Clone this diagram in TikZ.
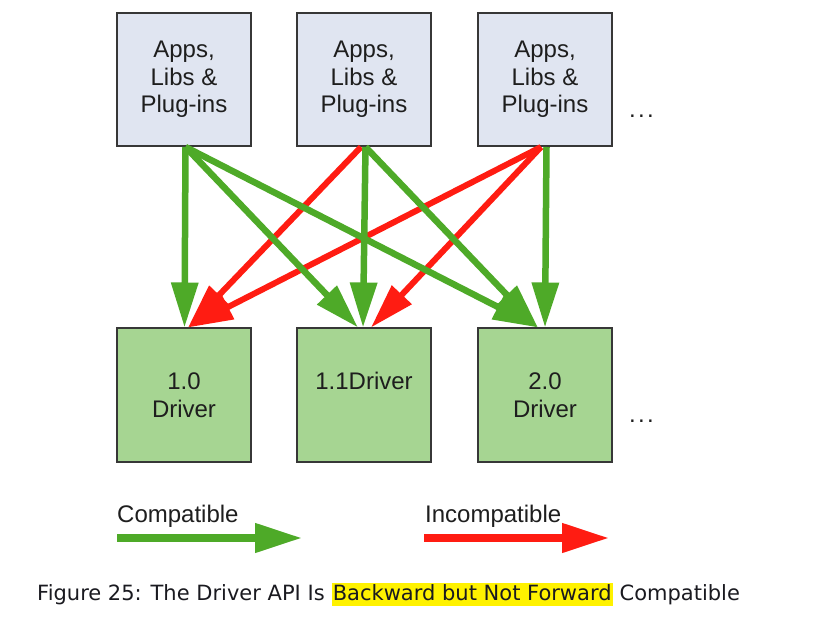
\documentclass[tikz,border=0pt]{standalone}
\usepackage{fontspec}
\setmainfont{Liberation Sans}
\newfontfamily\capfont{DejaVu Sans}
\usetikzlibrary{arrows.meta,calc}
\definecolor{cgreen}{RGB}{78,170,40}
\definecolor{cred}{RGB}{255,28,18}
\definecolor{topfill}{RGB}{224,229,241}
\definecolor{botfill}{RGB}{166,213,146}
\definecolor{boxline}{RGB}{55,55,55}
\definecolor{hl}{RGB}{255,242,0}
\definecolor{captext}{RGB}{26,26,32}
\definecolor{dtext}{RGB}{30,30,30}
\begin{document}
\begin{tikzpicture}[x=1pt,y=1pt,
  box/.style={draw=boxline,line width=2pt,minimum width=134pt,minimum height=133pt,inner sep=0pt,align=center,font=\fontsize{24}{27.5}\selectfont,text=dtext},
  appbox/.style={box,fill=topfill},
  drvbox/.style={box,fill=botfill},
  garrow/.style={draw=cgreen,line width=6.5pt,-{Triangle[length=45pt,width=26pt]}},
  rarrow/.style={draw=cred,line width=6pt,-{Triangle[length=45pt,width=26pt]}},
  glegend/.style={draw=cgreen,line width=7.5pt,-{Triangle[length=47pt,width=28pt]}},
  rlegend/.style={draw=cred,line width=7.5pt,-{Triangle[length=47pt,width=28pt]}},
  lbl/.style={anchor=base west,inner sep=0pt,font=\fontsize{24}{27.5}\selectfont,text=dtext},
  dots/.style={anchor=base west,inner sep=0pt,font=\fontsize{24}{27.5}\selectfont,text=dtext},
  captxt/.style={anchor=base west,inner sep=0pt,font=\capfont\fontsize{21}{25}\selectfont,text=captext}]
\useasboundingbox (0,0) rectangle (830,-617);
\fill[white] (0,0) rectangle (830,-617);

% boxes
\node[appbox] (a1) at (184,-79.5) {Apps,\\Libs \&\\Plug-ins};
\node[appbox] (a2) at (364,-79.5) {Apps,\\Libs \&\\Plug-ins};
\node[appbox] (a3) at (545,-79.5) {Apps,\\Libs \&\\Plug-ins};
\node[dots] (dt) at (629,-118) {.\kern2.3pt.\kern2.3pt.};

\node[drvbox] (d1) at (184,-395) {1.0\\Driver};
\node[drvbox] (d2) at (364,-395) {1.1Driver\\\phantom{Driver}};
\node[drvbox] (d3) at (545,-395) {2.0\\Driver};
\node[dots] (db) at (629,-423) {.\kern2.3pt.\kern2.3pt.};

% incompatible arrows (below)
\draw[rarrow] ($(a2.south)+(-3,0)$) -- ($(d1.north)+(4,0)$);
\draw[rarrow] ($(a3.south)+(-4,0)$) -- ($(d1.north)+(4,0)$);
\draw[rarrow] ($(a3.south)+(-4,0)$) -- ($(d2.north)+(7,0)$);

% compatible arrows (on top)
\draw[garrow] ($(a1.south)+(1.5,0)$) -- ($(d1.north)+(0.5,0)$);
\draw[garrow] ($(a1.south)+(1.5,0)$) -- ($(d2.north)+(-6,0)$);
\draw[garrow] ($(a1.south)+(1.5,0)$) -- ($(d3.north)+(-7,0)$);
\draw[garrow] ($(a2.south)+(1.5,0)$) -- ($(d2.north)+(-1,0)$);
\draw[garrow] ($(a2.south)+(1.5,0)$) -- ($(d3.north)+(-7,0)$);
\draw[garrow] ($(a3.south)+(1.5,0)$) -- ($(d3.north)+(0,0)$);

% legend
\node[lbl] (lc) at (117,-522) {Compatible};
\coordinate (lcs) at (117,-538);
\coordinate (lce) at (302,-538);
\draw[glegend] (lcs) -- (lce);
\node[lbl] (li) at (425,-522) {Incompatible};
\coordinate (lis) at (424,-538);
\coordinate (lie) at (609,-538);
\draw[rlegend] (lis) -- (lie);

% caption
\node[captxt] (c1) at (37,-600) {Figure 25: The Driver API Is\ \hbox{}};
\node[captxt,fill=hl,text height=17pt,text depth=6pt,inner xsep=1pt] (c2) at (c1.base east) {Backward but Not Forward};
\node[captxt] (c3) at (c2.base east) {\ Compatible};
\end{tikzpicture}
\end{document}
